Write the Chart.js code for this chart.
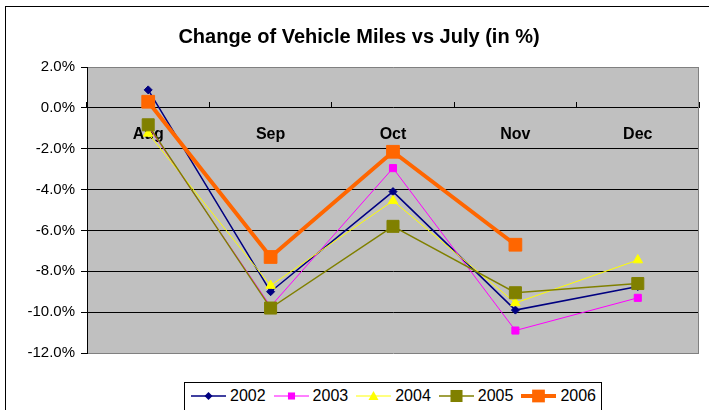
<!DOCTYPE html>
<html>
<head>
<meta charset="utf-8">
<script src="https://cdn.jsdelivr.net/npm/chart.js@4"></script>
<style>
  html, body { margin: 0; padding: 0; background: #fff; overflow: hidden; }
  #wrap { position: relative; width: 709px; height: 410px; }
  #frame { position: absolute; left: 5px; top: 6px; width: 760px; height: 460px; border: 1px solid #000; box-sizing: border-box; }
  #chart { position: absolute; left: 0; top: 0; }
  #legend { position: absolute; left: 184px; top: 382px; width: 418px; height: 40px; border: 1px solid #000; box-sizing: border-box; background: #fff;
            display: flex; align-items: flex-start; padding: 4px 0 0 6px; font: 16px Arial, "Liberation Sans", sans-serif; color: #000; }
  .item { display: flex; align-items: center; margin-right: 8px; }
  .item svg { margin-right: 4px; }
</style>
</head>
<body>
<div id="wrap">
  <div id="frame"></div>
  <canvas id="chart" width="709" height="410"></canvas>
  <div id="legend"></div>
</div>
<script>
// Data
const months = ['Aug', 'Sep', 'Oct', 'Nov', 'Dec'];
const years = ['2002', '2003', '2004', '2005', '2006'];
const v2002 = [0.88, -9.0, -4.1, -9.9, -8.75];
const v2003 = [-0.9, -9.72, -2.95, -10.9, -9.3];
const v2004 = [-1.25, -8.7, -4.55, -9.55, -7.45];
const v2005 = [-0.83, -9.8, -5.8, -9.05, -8.6];
const v2006 = [0.3, -7.3, -2.15, -6.7, null];
const yTicks = [2, 0, -2, -4, -6, -8, -10, -12];

// Styles per series
const styles = [
    { color: '#000080', width: 1.5, point: 'rectRot', radius: 4 },
    { color: '#FF00FF', width: 1, point: 'rect', radius: 5 },
    { color: '#FFFF00', width: 1, point: 'triangle', radius: 5.5 },
    { color: '#808000', width: 1.5, point: 'rect', radius: 8.5 },
    { color: '#FF6600', width: 4, point: 'rect', radius: 9 }
];
const series = [v2002, v2003, v2004, v2005, v2006];

const datasets = series.map((vals, i) => ({
    label: years[i],
    data: vals,
    borderColor: styles[i].color,
    backgroundColor: styles[i].color,
    borderWidth: styles[i].width,
    pointStyle: styles[i].point,
    pointRadius: styles[i].radius,
    pointBorderWidth: 1,
    pointBorderColor: styles[i].color,
    pointBackgroundColor: styles[i].color,
    tension: 0,
    order: series.length - i
}));

// Plot background + right edge
const plotBg = {
    id: 'plotBg',
    beforeDraw(chart) {
        const { ctx, chartArea: a } = chart;
        ctx.save();
        ctx.fillStyle = '#C0C0C0';
        ctx.fillRect(a.left, a.top, a.right - a.left, a.bottom - a.top);
        ctx.restore();
    },
    afterDraw(chart) {
        const { ctx, chartArea: a } = chart;
        ctx.save();
        ctx.strokeStyle = '#808080';
        ctx.lineWidth = 1;
        ctx.beginPath();
        ctx.moveTo(Math.round(a.right) - 0.5, a.top);
        ctx.lineTo(Math.round(a.right) - 0.5, a.bottom);
        ctx.stroke();
        ctx.restore();
    }
};

const FONT = 'Arial, "Liberation Sans", sans-serif';

new Chart(document.getElementById('chart'), {
    type: 'line',
    data: { labels: months, datasets },
    options: {
        responsive: false,
        animation: false,
        layout: { padding: { left: 18, right: 9, top: 0, bottom: 57 } },
        plugins: {
            legend: { display: false },
            tooltip: { enabled: false },
            title: {
                display: true,
                text: 'Change of Vehicle Miles vs July (in %)',
                color: '#000',
                font: { family: FONT, size: 20, weight: 'bold' },
                padding: { top: 25, bottom: 18 }
            }
        },
        scales: {
            x: {
                position: { y: 0 },
                offset: true,
                z: 1,
                border: { display: false },
                grid: { drawOnChartArea: false, offset: true, tickLength: -6, tickColor: '#000' },
                ticks: { color: '#000', padding: 23, maxRotation: 0, font: { family: FONT, size: 16, weight: 'bold' } }
            },
            y: {
                min: -12,
                max: 2,
                afterFit(scale) { scale.width = 69; },
                afterBuildTicks(scale) { scale.ticks = yTicks.map(v => ({ value: v })); },
                border: { color: '#000', width: 1 },
                grid: {
                    color: c => (c.tick && (c.tick.value === 2 || c.tick.value === -12)) ? '#808080' : '#000',
                    tickLength: 6,
                    tickColor: '#000'
                },
                ticks: {
                    color: '#000',
                    padding: 6,
                    font: { family: FONT, size: 15 },
                    callback: v => v.toFixed(1) + '%'
                }
            }
        }
    },
    plugins: [plotBg]
});

// HTML legend
const legendEl = document.getElementById('legend');
years.forEach((y, i) => {
    const s = styles[i];
    const item = document.createElement('div');
    item.className = 'item';
    let marker = '';
    const cx = 17.5, cy = 8;
    if (s.point === 'rectRot') {
        marker = `<polygon points="${cx},${cy - 4} ${cx + 4},${cy} ${cx},${cy + 4} ${cx - 4},${cy}" fill="${s.color}"/>`;
    } else if (s.point === 'triangle') {
        marker = `<polygon points="${cx},${cy - 5} ${cx + 5},${cy + 4} ${cx - 5},${cy + 4}" fill="${s.color}"/>`;
    } else {
        const h = s.radius * Math.SQRT1_2;
        marker = `<rect x="${cx - h}" y="${cy - h}" width="${2 * h}" height="${2 * h}" fill="${s.color}"/>`;
    }
    item.innerHTML = `<svg width="35" height="16"><line x1="0" y1="${cy}" x2="35" y2="${cy}" stroke="${s.color}" stroke-width="${s.width}"/>${marker}</svg><span>${y}</span>`;
    legendEl.appendChild(item);
});
</script>
</body>
</html>
